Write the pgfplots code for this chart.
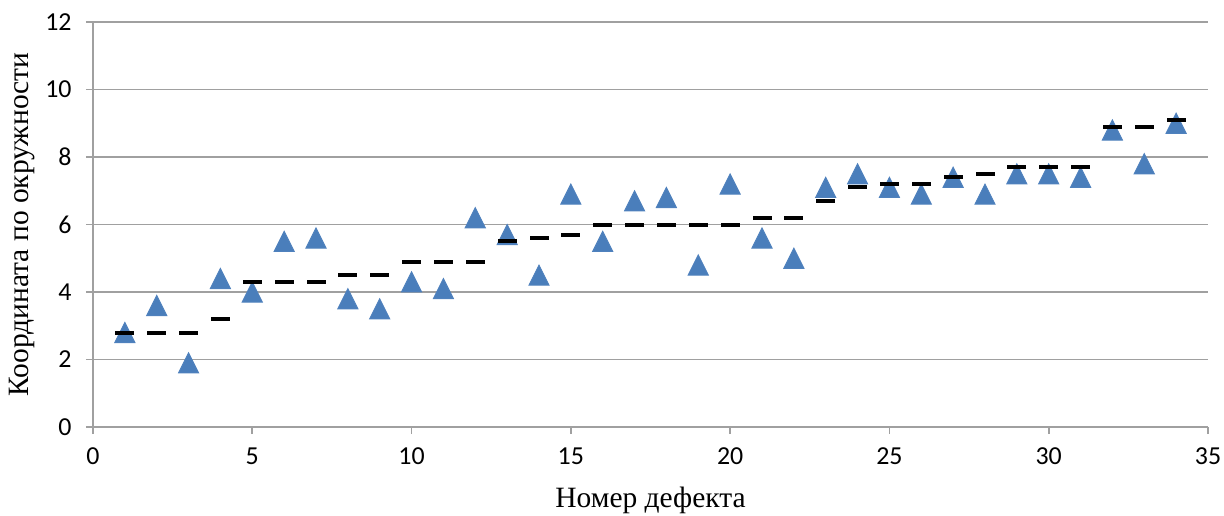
\documentclass[border=0pt]{standalone}
\usepackage{fontspec}
\setmainfont{Liberation Serif}
\newfontfamily\calibri{Carlito}
\usepackage{pgfplots}
\pgfplotsset{compat=1.18}
\definecolor{triblue}{HTML}{4A7EBB}
\definecolor{triedge}{HTML}{4F81BD}
\definecolor{gridgray}{HTML}{A0A0A0}
\pgfdeclareplotmark{xltri}{%
  \pgfpathmoveto{\pgfpoint{0bp}{5bp}}%
  \pgfpathlineto{\pgfpoint{5bp}{-5bp}}%
  \pgfpathlineto{\pgfpoint{-5bp}{-5bp}}%
  \pgfpathclose\pgfusepathqfillstroke}
\pgfdeclareplotmark{xldash}{%
  \pgfpathrectangle{\pgfpoint{-4.75bp}{-1bp}}{\pgfpoint{9.5bp}{2bp}}%
  \pgfusepathqfill}
\begin{document}
\begin{tikzpicture}
\path[use as bounding box] (-46.5bp,-44.5bp) rectangle (565.5bp,213.5bp);
\begin{axis}[
  scale only axis, width=557.5bp, height=202.5bp,
  xmin=0, xmax=35, ymin=0, ymax=12,
  xtick={0,5,...,35}, ytick={0,2,...,12},
  axis lines=left, axis line style={draw=gridgray, line width=0.8bp, -},
  ymajorgrids, grid style={draw=gridgray, line width=0.8bp},
  tick style={draw=gridgray, line width=0.8bp},
  tick align=outside, major tick length=3.5bp,
  /pgf/number format/assume math mode=true,
  ticklabel style={font=\calibri\fontsize{13}{15}\selectfont},
  yticklabel style={anchor=east, inner sep=0pt, xshift=-7bp},
  xticklabel style={anchor=center, inner sep=0pt, yshift=-11bp},
  xlabel={Номер дефекта}, ylabel={Координата по окружности},
  label style={font=\fontsize{14.8}{17}\selectfont},
  xlabel style={at={(rel axis cs:0.5,0)}, anchor=center, yshift=-36.5bp},
  ylabel style={at={(rel axis cs:0,0.5)}, anchor=center, yshift=35.5bp},
  clip=false,
]
\addplot[only marks, mark=xltri, mark options={fill=triblue, draw=triedge, line width=0.5bp}] coordinates {
(1,2.8) (2,3.6) (3,1.9) (4,4.4) (5,4.0) (6,5.5) (7,5.6) (8,3.8) (9,3.5) (10,4.3)
(11,4.1) (12,6.2) (13,5.7) (14,4.5) (15,6.9) (16,5.5) (17,6.7) (18,6.8) (19,4.8) (20,7.2)
(21,5.6) (22,5.0) (23,7.1) (24,7.5) (25,7.1) (26,6.9) (27,7.4) (28,6.9) (29,7.5) (30,7.5)
(31,7.4) (32,8.8) (33,7.8) (34,9.0)
};
\addplot[only marks, mark=xldash, mark options={fill=black}] coordinates {
(1,2.8) (2,2.8) (3,2.8) (4,3.2) (5,4.3) (6,4.3) (7,4.3) (8,4.5) (9,4.5) (10,4.9)
(11,4.9) (12,4.9) (13,5.5) (14,5.6) (15,5.7) (16,6.0) (17,6.0) (18,6.0) (19,6.0) (20,6.0)
(21,6.2) (22,6.2) (23,6.7) (24,7.1) (25,7.2) (26,7.2) (27,7.4) (28,7.5) (29,7.7) (30,7.7)
(31,7.7) (32,8.9) (33,8.9) (34,9.1)
};
\end{axis}
\end{tikzpicture}
\end{document}
